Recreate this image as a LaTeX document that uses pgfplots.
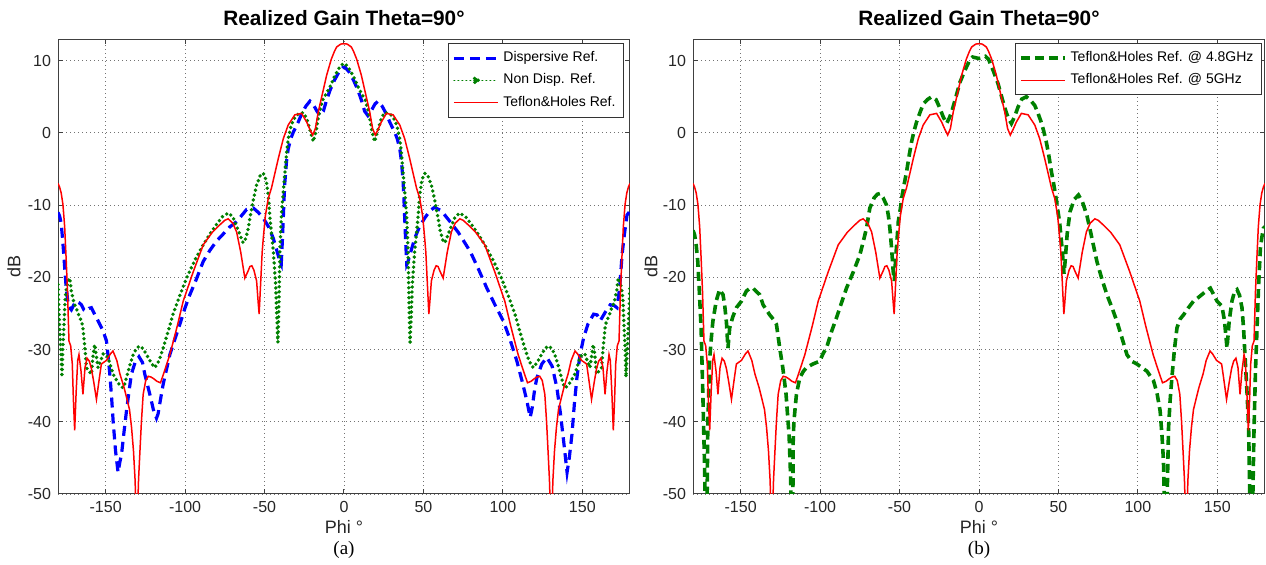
\documentclass[border=0pt]{standalone}
\usepackage{fontspec}
\setmainfont{Liberation Sans}
\newfontfamily\seriffont{Liberation Serif}
\usepackage{pgfplots}
\usepackage{pgfplotstable}
\pgfplotsset{compat=1.18}
\definecolor{mgreen}{rgb}{0,0.5,0}
\definecolor{mblue}{rgb}{0,0,1}
\definecolor{mred}{rgb}{1,0,0}

\pgfplotstableread{
x y
-180 -7.0
-179 -7.5
-178 -8.3
-176.9 -9.9
-175.8 -13
-174.8 -17.8
-174 -22
-173.1 -28.8
-172 -29.5
-171 -32
-170.3 -37
-169.5 -41.2
-168.6 -36
-167.6 -31.5
-166.8 -30.7
-165.5 -33
-164.3 -36.2
-163 -32.5
-161.7 -31.2
-160.3 -31.6
-159 -32.6
-157.5 -34.5
-155.8 -36.9
-154 -34
-152.7 -32
-149.5 -31.5
-147 -30.6
-145.4 -30.2
-143 -31.5
-141 -33.4
-138.5 -35.2
-136.9 -36.6
-135 -38.3
-133.7 -40.8
-132.5 -44
-131.5 -48
-130.8 -53
-130 -53
-129.3 -48
-128.5 -44.4
-127.5 -40
-126.4 -36.2
-124.8 -34.3
-123.2 -33.7
-121.5 -33.8
-120 -34
-117.7 -34.4
-115.5 -34.6
-113 -33
-109.6 -30.7
-105 -26.8
-101.2 -23.3
-95 -19.3
-88.6 -15.5
-83 -13.8
-78 -12.7
-75 -12.1
-72.9 -11.9
-70 -12.5
-67.6 -13.7
-65 -16.5
-62.4 -20.1
-60.5 -19.2
-59.2 -18.5
-58 -18.4
-56.7 -19
-55 -20.5
-54 -23.5
-53.4 -25.1
-52.5 -21
-51.5 -16.5
-50.8 -14.6
-49.5 -11.5
-47.7 -9.1
-45.6 -7.6
-43.5 -5.6
-41.4 -3.6
-38.2 -0.8
-35.1 1.1
-30.9 2.5
-26.7 2.7
-23.5 1.5
-21.5 0.5
-19.7 -0.3
-18 0.6
-16.2 2.9
-13.5 5.5
-10.9 8
-8 10.2
-6 11.3
-4.6 11.9
-2 12.3
0 12.35
2 12.3
4.6 11.9
6 11.3
8 10.2
10.9 8
13.5 5.5
16.2 2.9
18 0.6
19.7 -0.3
21.5 0.5
23.5 1.5
26.7 2.7
30.9 2.5
35.1 1.1
38.2 -0.8
41.4 -3.6
43.5 -5.6
45.6 -7.6
47.7 -9.1
49.5 -11.5
50.8 -14.6
51.5 -16.5
52.5 -21
53.4 -25.1
54 -23.5
55 -20.5
56.7 -19
58 -18.4
59.2 -18.5
60.5 -19.2
62.4 -20.1
65 -16.5
67.6 -13.7
70 -12.5
72.9 -11.9
75 -12.1
78 -12.7
83 -13.8
88.6 -15.5
95 -19.3
101.2 -23.3
105 -26.8
109.6 -30.7
113 -33
115.5 -34.6
117.7 -34.4
120 -34
121.5 -33.8
123.2 -33.7
124.8 -34.3
126.4 -36.2
127.5 -40
128.5 -44.4
129.3 -48
130 -53
130.8 -53
131.5 -48
132.5 -44
133.7 -40.8
135 -38.3
136.9 -36.6
138.5 -35.2
141 -33.4
143 -31.5
145.4 -30.2
147 -30.6
149.5 -31.5
152.7 -32
154 -34
155.8 -36.9
157.5 -34.5
159 -32.6
160.3 -31.6
161.7 -31.2
163 -32.5
164.3 -36.2
165.5 -33
166.8 -30.7
167.6 -31.5
168.6 -36
169.5 -41.2
170.3 -37
171 -32
172 -29.5
173.1 -28.8
174 -22
174.8 -17.8
175.8 -13
176.9 -9.9
178 -8.3
179 -7.5
180 -7.0
}\redtable

\pgfplotstableread{
x y
-180 -11
-179 -11.5
-178 -12.5
-177 -15
-176 -18
-175 -21
-173.5 -24
-171.6 -24.5
-170 -23.8
-168.4 -23.3
-166.8 -23.5
-165.3 -23.8
-163.7 -24.5
-162.1 -24.7
-160.5 -24.3
-159 -24.2
-156.5 -25.3
-153.7 -26.5
-151.5 -27.5
-149.5 -28.8
-148.4 -31
-147.4 -33.4
-146.3 -36.5
-145.3 -39.9
-143.8 -44
-142.2 -47
-141 -45.5
-140 -44.5
-138.5 -41.5
-136.9 -38.5
-135.3 -35.8
-133.8 -33.4
-131.5 -31.8
-129 -31
-126.8 -31.8
-125.4 -33.4
-123.8 -34.8
-122.2 -36.2
-120 -38.3
-118 -39.5
-117 -38.9
-115.4 -36.8
-113.8 -34.8
-109.6 -30.7
-106.5 -28.6
-103.3 -26.5
-100 -24.2
-97 -22.4
-93 -20.3
-88.6 -17.8
-84.5 -16.3
-80.3 -15
-76 -14
-71.8 -13
-68.7 -12.5
-65 -11.6
-61.3 -10.6
-57.1 -10.4
-54 -11
-50.8 -11.8
-47.5 -13
-44.5 -14.6
-42 -16.5
-40.3 -17.8
-39.5 -18.2
-38.8 -15
-38.2 -11.8
-37.7 -9
-37.2 -6.8
-36.2 -4
-35.1 -2.2
-33.5 -0.8
-31.9 0.1
-29 1.4
-26.7 2.6
-24 3.7
-21.4 4.4
-19.5 4
-17 3
-15 2.4
-13 3
-11 4.5
-8.8 5.9
-6 7.3
-3 8.5
-1 9
0 9.1
1 9
3 8.5
6 7.3
8.8 5.9
11 4.5
13 3
15 2.4
17 3
19.5 4
21.4 4.4
24 3.7
26.7 2.6
29 1.4
31.9 0.1
33.5 -0.8
35.1 -2.2
36.2 -4
37.2 -6.8
37.7 -9
38.2 -11.8
38.8 -15
39.5 -18.2
40.3 -17.8
42 -16.5
44.5 -14.6
47.5 -13
50.8 -11.8
54 -10.8
57 -10.3
61.3 -10.8
66.8 -12.3
72 -13.8
79.4 -16.4
84.5 -18.8
89.9 -21.5
95 -23.8
100.4 -26.1
104.5 -28.6
108.8 -31.6
112 -34.3
115.1 -37.1
117.2 -39.4
118.5 -38
120 -35.5
121.4 -33.9
124.5 -32
127.7 -31.1
131 -32.3
134 -35.3
136.2 -38.8
138.2 -42.6
140.4 -47
141.8 -45
143.5 -41.7
145 -37.5
146.6 -33.9
148.5 -30.8
150.8 -28.4
153.5 -26.5
157.1 -25.1
159.3 -25.2
161.3 -26
164.5 -24.8
167.6 -23.8
170 -23.9
171.8 -24.2
173.5 -21.5
175 -16.9
176.5 -14
178.1 -11.4
180 -10.8
}\bluetable

\pgfplotstableread{
x y
-180 -21
-179.5 -24.2
-178.5 -29
-177.5 -33.8
-177 -30
-176.5 -27.9
-175.5 -23
-174.7 -21.5
-173.5 -20.5
-172.6 -20.1
-171.6 -21.9
-170 -23.5
-168.4 -24.3
-166.5 -25.5
-165.3 -26
-164.3 -27
-163 -30
-162.1 -32.5
-160.5 -33
-159 -33.4
-158 -31
-156.9 -29.3
-155.8 -31
-154.8 -32.5
-153 -31.5
-151.6 -30.6
-150 -30.7
-148.5 -31.1
-147 -32.2
-145.3 -33.4
-143 -34.3
-141 -35
-139.1 -35.3
-138 -34.8
-136.9 -33.9
-134.8 -32.2
-132.7 -30.7
-130.5 -29.8
-128.5 -29.5
-126.4 -29.9
-124.3 -30.7
-121.5 -31.8
-119.1 -32.5
-116.5 -31.6
-113.8 -29.8
-110.7 -27.5
-107.6 -25.1
-103.3 -22.5
-99.1 -20.1
-93.8 -17.6
-88.6 -15.5
-84.4 -14
-80.3 -12.7
-76.5 -11.6
-72.9 -11.1
-70 -11.6
-67.6 -12.9
-65.5 -14.1
-63.5 -15.2
-62.4 -15
-60.5 -13.5
-59.2 -11.8
-57 -9.2
-55 -7.2
-52.5 -5.8
-50.8 -5.6
-49 -6.5
-47.5 -9
-46.5 -12
-44.5 -16.4
-43 -21
-42.3 -25.5
-41.6 -29
-41.2 -26
-40.8 -22
-40.3 -16
-39.3 -11
-38.2 -8.1
-37.2 -5.5
-36 -2.5
-35.1 -0.8
-33.5 0.8
-31.9 1.8
-29.5 2.5
-27.7 2.7
-25.5 2.8
-23.5 2
-21.5 0.5
-19.3 -1.2
-17.5 0.3
-16 2.3
-13.5 4.5
-11 5.5
-8.8 6.4
-6 7.8
-3 9
-1 9.5
0 9.6
1 9.5
3 9
6 7.8
8.8 6.4
11 5.5
13.5 4.5
16 2.3
17.5 0.3
19.3 -1.2
21.5 0.5
23.5 2
25.5 2.8
27.7 2.7
29.5 2.5
31.9 1.8
33.5 0.8
35.1 -0.8
36 -2.5
37.2 -5.5
38.2 -8.1
39.3 -11
40.3 -16
40.8 -22
41.2 -26
41.6 -29
42.3 -25.5
43 -21
44.5 -16.4
46.5 -12
47.5 -9
49 -6.5
50.8 -5.6
52.5 -5.8
55 -7.2
57 -9.2
59.2 -11.8
60.5 -13.5
62.4 -15
63.5 -15.2
65.5 -14.1
67.6 -12.9
70 -11.6
72.9 -11.1
76.5 -11.6
80.3 -12.7
84.4 -14
88.6 -15.5
93.8 -17.6
99.1 -20.1
103.3 -22.5
107.6 -25.1
110.7 -27.5
113.8 -29.8
116.5 -31.6
119.1 -32.5
121.5 -31.8
124.3 -30.7
126.4 -29.9
128.5 -29.5
130.5 -29.8
132.7 -30.7
134.8 -32.2
136.9 -33.9
138 -34.8
139.1 -35.3
141 -35
143 -34.3
145.3 -33.4
147 -32.2
148.5 -31.1
150 -30.7
151.6 -30.6
153 -31.5
154.8 -32.5
155.8 -31
156.9 -29.3
158 -31
159 -33.4
160.5 -33
162.1 -32.5
163 -30
164.3 -27
165.3 -26
166.5 -25.5
168.4 -24.3
170 -23.5
171.6 -21.9
172.6 -20.1
173.5 -20.5
174.7 -21.5
175.5 -23
176.5 -27.9
177 -30
177.5 -33.8
178.5 -29
179.5 -24.2
180 -21
}\greentable

\pgfplotstableread{
x y
-180 -13.5
-179 -14.1
-178 -15.5
-177 -17.8
-176 -22
-174.9 -27
-173.8 -36.2
-172.8 -45.4
-172 -55
-171.3 -55
-170.7 -40.8
-169.6 -31.6
-168.5 -28.5
-167.5 -26.1
-165.4 -23.3
-163.3 -21.7
-161.1 -22.4
-160 -24
-159 -26.1
-158 -29.8
-156.9 -27
-155 -25.5
-152.7 -24.2
-149.5 -23.3
-146.4 -21.9
-144 -21.5
-142.2 -21.5
-140 -22
-138 -22.4
-135.9 -23.8
-133.8 -24.5
-131.7 -25.2
-129.5 -25.8
-127.5 -26.5
-125.4 -29.8
-123.5 -32.5
-121.5 -36
-119.5 -42
-118.5 -48
-118 -55
-117.2 -55
-117 -43.1
-116.5 -40
-114.9 -36.2
-112.8 -33.9
-110.5 -33
-108.6 -32.5
-104.5 -32
-100.2 -31.6
-98 -30.5
-96 -29.8
-92.8 -27.5
-89.7 -25.6
-86.5 -23.5
-83.4 -21.5
-79 -19.2
-75 -16.9
-72.8 -15
-70.8 -13.2
-68.7 -10.4
-66 -9
-64 -8.5
-62.4 -8.4
-60.3 -9
-58.2 -10
-57 -11.5
-56.1 -13.2
-55 -16
-54 -19.2
-53.3 -20.5
-52.5 -17.5
-51.5 -14.5
-50.8 -12.3
-49.5 -10.5
-48.7 -9.1
-47 -7
-45.6 -5.4
-44 -3.2
-42.4 -1.2
-40.8 0.3
-39.3 1.5
-37 2.9
-35.1 4
-32.5 4.6
-29.8 5
-27 4.6
-24.6 3.4
-22.5 2.2
-20.4 1.3
-18.8 2
-17.2 2.9
-14.5 5
-12 7
-9 8.6
-6 10
-4 10.5
-2 10.4
0 10.3
2 10.4
4 10.6
6 10.2
9 8.6
12 6.8
14.5 4.8
17.2 2.8
18.8 1.9
20.4 1.3
22.5 2.3
24.6 3.6
27 4.7
29.8 5
32.5 4.5
35.1 3.8
37 2.8
39.3 1.4
40.8 0.2
42.4 -1.3
44 -3.2
45.6 -5.4
46.8 -6.8
48.7 -9.3
50.8 -12.5
52.5 -16.5
53.5 -19.5
54.2 -17.8
55.5 -14
57.3 -10.9
60 -9.2
62.6 -8.6
65 -9.5
67.9 -11.4
71 -14.5
74.2 -17.8
77.3 -20.2
80.5 -22.4
83.7 -24.2
86.8 -26.1
90 -28.4
93.1 -30.7
96 -31.6
99.4 -32
102.5 -32.5
105.7 -33
109.8 -34.3
112 -36
114 -38.5
115.2 -42
116.1 -45.4
117 -55
118 -55
119.3 -40.8
120.3 -37
121.4 -33.9
123 -30
124.6 -27
126.5 -25.8
128.7 -25.2
131.5 -24.3
135 -23.3
138 -22.8
141.3 -22.2
143.5 -21.8
145.6 -21.5
147.5 -22.3
149.8 -23.3
152.9 -24
154.5 -26
156.1 -29.8
157.5 -26
159.2 -23.3
160.8 -22
162.4 -21.7
164 -22.5
165.5 -24.2
166.5 -27
167.6 -31.6
168.7 -36
169.7 -40.8
170.8 -55
172 -55
173 -42
174 -33
175 -27
176 -21
177.1 -16
178 -14.5
179 -13.2
180 -13
}\greenbtable

\pgfplotsset{
 myaxis/.style={
  scale only axis, width=286pt, height=227.5pt,
  xmin=-180, xmax=180, ymin=-50, ymax=13,
  xtick={-150,-100,...,150}, ytick={-50,-40,...,10},
  grid=major,
  major grid style={black!55, line width=0.4pt, dash pattern=on 0.4pt off 1.6pt},
  tick align=inside, major tick length=2.5pt,
  axis line style={black!75, line width=0.5pt},
  tick style={black!75, line width=0.5pt},
  ticklabel style={font=\fontsize{8}{9}\selectfont, text=black!85},
  /pgf/number format/assume math mode=true,
  xlabel={Phi °}, ylabel={dB},
  xlabel style={font=\fontsize{9}{10}\selectfont, text=black!85, at={(axis description cs:0.5,-0.0725)}, anchor=center},
  title={Realized Gain Theta=90°},
  title style={font=\bfseries\fontsize{10.4}{12}\selectfont, at={(axis description cs:0.5,1.0196)}, anchor=center},
  legend style={font=\fontsize{7}{8}\selectfont, draw=black!80, line width=0.5pt, anchor=north east, cells={anchor=west}, inner sep=2pt, row sep=0.5pt},
  legend image code/.code={\draw[##1] (0pt,0pt) -- (22pt,0pt);},
 }
}

\begin{document}
\begin{tikzpicture}
\path[use as bounding box] (0pt,0pt) rectangle (633pt,-282.5pt);

\begin{axis}[myaxis, at={(29pt,-247pt)}, anchor=south west,
  ylabel style={font=\fontsize{9}{10}\selectfont, text=black!85, at={(axis description cs:-0.077,0.5)}, anchor=center},
  legend style={at={(axis description cs:0.9895,0.991)}}]
\addplot[mblue, line width=1.6pt, dash pattern=on 5pt off 3pt] table[x=x,y=y] {\bluetable};
\addlegendentry{Dispersive Ref.}
\addplot[mgreen, line width=1.9pt, dash pattern=on 0pt off 2.5pt, line cap=round,
  legend image code/.code={\draw[mgreen, line width=0.5pt, dash pattern=on 0.5pt off 1.5pt] (0pt,0pt) -- (22pt,0pt); \fill[mgreen] (11pt,0pt) circle (1.2pt);}] table[x=x,y=y] {\greentable};
\addlegendentry{Non Disp. Ref.}
\addplot[mred, line width=0.75pt] table[x=x,y=y] {\redtable};
\addlegendentry{Teflon\&Holes Ref.}
\end{axis}

\begin{axis}[myaxis, at={(346.5pt,-247pt)}, anchor=south west,
  ylabel style={font=\fontsize{9}{10}\selectfont, text=black!85, at={(axis description cs:-0.0734,0.5)}, anchor=center},
  legend style={at={(axis description cs:0.9948,0.991)}}]
\addplot[mgreen, line width=1.8pt, dash pattern=on 4.5pt off 2.5pt] table[x=x,y=y] {\greenbtable};
\addlegendentry{Teflon\&Holes Ref. @ 4.8GHz}
\addplot[mred, line width=0.75pt] table[x=x,y=y] {\redtable};
\addlegendentry{Teflon\&Holes Ref. @ 5GHz}
\end{axis}

\node[font=\seriffont\fontsize{9.5}{11}\selectfont] at (172pt,-275pt) {(a)};
\node[font=\seriffont\fontsize{9.5}{11}\selectfont] at (489.5pt,-275pt) {(b)};
\end{tikzpicture}
\end{document}
